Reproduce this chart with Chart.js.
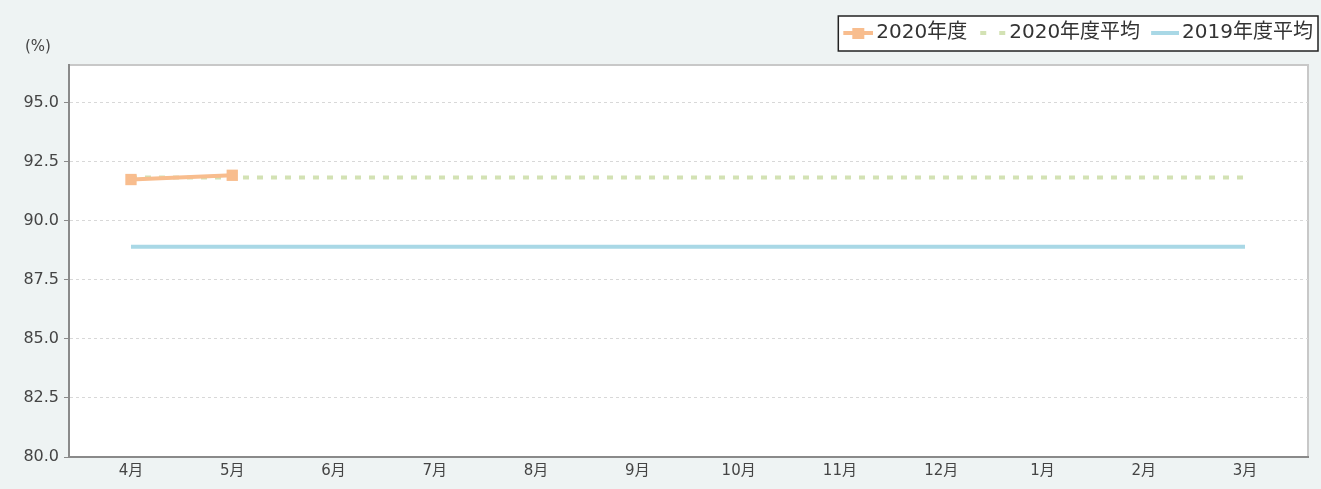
<!DOCTYPE html>
<html><head><meta charset="utf-8">
<script src="https://cdn.jsdelivr.net/npm/chart.js@4"></script>
<style>
html,body{margin:0;padding:0;background:#eef3f3;}
#wrap{width:1321px;height:489px;position:relative;}
</style></head>
<body><div id="wrap"><canvas id="c" width="1321" height="489"></canvas></div>
<script>
const months = ['4月','5月','6月','7月','8月','9月','10月','11月','12月','1月','2月','3月'];
const yTicks = [80, 82.5, 85, 87.5, 90, 92.5, 95];
const seriesNames = ['2020年度','2020年度平均','2019年度平均'];
const fy2020 = [91.75, 91.93];
const fy2020Avg = [91.84, 91.84, 91.84, 91.84, 91.84, 91.84, 91.84, 91.84, 91.84, 91.84, 91.84, 91.84];
const fy2019Avg = [88.9, 88.9, 88.9, 88.9, 88.9, 88.9, 88.9, 88.9, 88.9, 88.9, 88.9, 88.9];
const yUnit = '(%)';

const FONT = '"DejaVu Sans", "Noto Sans CJK JP", sans-serif';
const C_OR = '#f8bd8e', C_GR = '#d3e2b4', C_BL = '#a9d8e6';
const PLOT = {left:69, top:65, right:1308, bottom:457};
const LEG_PAD = 10;

function icon(kind){
  const c = document.createElement('canvas'); c.width = 36; c.height = 14;
  const x = c.getContext('2d');
  if(kind===0){ x.fillStyle=C_OR; x.fillRect(6,5,30,4); x.fillRect(15,2,12,11); }
  if(kind===1){ x.fillStyle=C_GR; x.fillRect(10,5,6,4); x.fillRect(29,5,6,4); }
  if(kind===2){ x.fillStyle=C_BL; x.fillRect(8,5,28,4); }
  return c;
}
const icons = [icon(0), icon(1), icon(2)];

const toXY = arr => arr.map((v,i)=>({x:i, y:v}));

const bgPlugin = {
  id:'bg',
  beforeLayout(chart){
    const lg = chart.legend;
    if(lg && !lg._patched){
      const orig = lg.fit;
      lg.fit = function(){ orig.call(this); this.height = PLOT.top - 10; };
      lg._patched = true;
    }
  },
  afterLayout(chart){
    const lg = chart.legend;
    const dx = 1313 - (lg.right - LEG_PAD);
    lg.left += dx; lg.right += dx;
    lg.top += 3; lg.bottom += 3;
  },
  beforeDraw(chart){
    const ctx = chart.ctx;
    ctx.save();
    ctx.fillStyle = '#eef3f3'; ctx.fillRect(0,0,chart.width,chart.height);
    const a = chart.chartArea;
    ctx.fillStyle = '#fff'; ctx.fillRect(a.left, a.top, a.right-a.left, a.bottom-a.top);
    ctx.strokeStyle = '#c8c8c8'; ctx.lineWidth = 2;
    ctx.beginPath(); ctx.moveTo(a.left, a.top); ctx.lineTo(a.right, a.top); ctx.lineTo(a.right, a.bottom); ctx.stroke();
    const hb = chart.legend.legendHitBoxes;
    if(hb && hb.length){
      let l = Math.min(...hb.map(h=>h.left)) - 6, r = Math.max(...hb.map(h=>h.left+h.width)) + 5;
      let t = Math.min(...hb.map(h=>h.top)) - 7, b = Math.max(...hb.map(h=>h.top+h.height)) + 8;
      ctx.fillStyle = '#fff'; ctx.fillRect(l,t,r-l,b-t);
      ctx.strokeStyle = '#222'; ctx.lineWidth = 1.5; ctx.strokeRect(l,t,r-l,b-t);
    }
    ctx.fillStyle = '#444'; ctx.font = '15px ' + FONT; ctx.textBaseline='middle'; ctx.textAlign='left';
    ctx.fillText(yUnit, 25, 47);
    ctx.restore();
  }
};

new Chart(document.getElementById('c'), {
  type:'line',
  data:{
    datasets:[
      {label:seriesNames[0], data:toXY(fy2020), borderColor:C_OR, backgroundColor:C_OR, borderWidth:4,
       pointStyle:'rect', pointRadius:8, pointBackgroundColor:C_OR, pointBorderWidth:0, order:0},
      {label:seriesNames[1], data:toXY(fy2020Avg), borderColor:C_GR, backgroundColor:C_GR, borderWidth:4,
       borderDash:[6,8], borderCapStyle:'butt', pointRadius:0, order:1},
      {label:seriesNames[2], data:toXY(fy2019Avg), borderColor:C_BL, backgroundColor:C_BL, borderWidth:4,
       pointRadius:0, order:2}
    ]
  },
  options:{
    responsive:false, animation:false,
    layout:{padding:{left:0, right:1321-PLOT.right, top:10, bottom:0}},
    plugins:{
      tooltip:{enabled:false},
      legend:{position:'top', align:'end',
        labels:{usePointStyle:true, pointStyleWidth:22, padding:LEG_PAD, color:'#333',
          font:{family:FONT, size:20},
          generateLabels(chart){
            return chart.data.datasets.map((d,i)=>({text:d.label, pointStyle:icons[i], fillStyle:d.borderColor,
              strokeStyle:d.borderColor, lineWidth:0, hidden:false, datasetIndex:i, fontColor:'#333'}));
          }}
      }
    },
    scales:{
      x:{type:'linear', min:-0.612, max:11.622,
        afterBuildTicks(s){ s.ticks = months.map((m,i)=>({value:i})); },
        afterFit(s){ s.height = 489 - PLOT.bottom; },
        ticks:{callback:(v)=>months[v], color:'#444', font:{family:FONT, size:15}, padding:5, maxRotation:0, autoSkip:false},
        grid:{display:false, drawTicks:false},
        border:{color:'#8a8a8a', width:2}
      },
      y:{min:80, max:96.6,
        afterBuildTicks(s){ s.ticks = yTicks.map(v=>({value:v})); },
        afterFit(s){ s.width = PLOT.left; },
        ticks:{callback:(v)=>v.toFixed(1), color:'#444', font:{family:FONT, size:16}, padding:5},
        grid:{color:'#d8d8d8', tickColor:'#8a8a8a', tickBorderDash:[], tickLength:5, lineWidth:1},
        border:{color:'#8a8a8a', width:2, dash:[3,3]}
      }
    }
  },
  plugins:[bgPlugin]
});
</script></body></html>
